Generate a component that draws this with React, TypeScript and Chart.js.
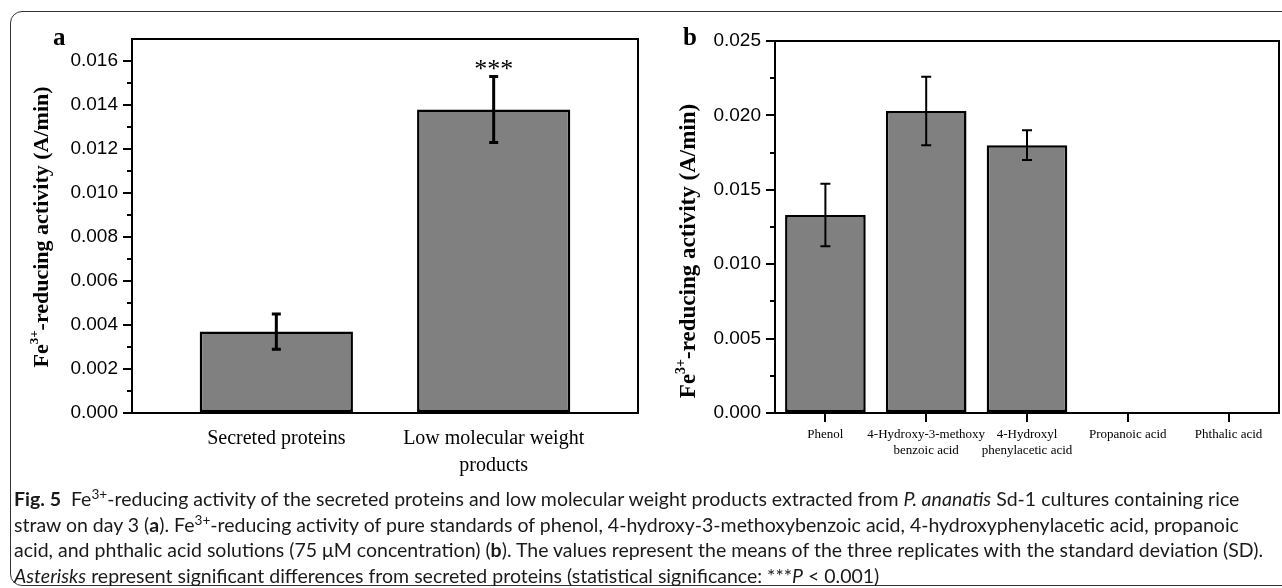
import React, { useEffect, useRef } from 'react';
import { Chart, registerables } from 'chart.js';

Chart.register(...registerables);

// ---------- Panel a data ----------
const catsA = ['Secreted proteins', 'Low molecular weight products'];
const labelsA = [['Secreted proteins'], ['Low molecular weight', 'products']];
const valuesA = [0.0037, 0.0138];
const errorsA = [0.0008, 0.0015];
const sigA = ['', '***'];
const yTicksA = [0, 0.002, 0.004, 0.006, 0.008, 0.01, 0.012, 0.014, 0.016];

// ---------- Panel b data ----------
const catsB = ['Phenol', '4-Hydroxy-3-methoxy benzoic acid', '4-Hydroxyl phenylacetic acid', 'Propanoic acid', 'Phthalic acid'];
const labelsB = [['Phenol'], ['4-Hydroxy-3-methoxy', 'benzoic acid'], ['4-Hydroxyl', 'phenylacetic acid'], ['Propanoic acid'], ['Phthalic acid']];
const valuesB = [0.0133, 0.0203, 0.018, 0, 0];
const errorsB = [0.0021, 0.0023, 0.001, 0, 0];
const yTicksB = [0, 0.005, 0.01, 0.015, 0.02, 0.025];

const SERIF = "'Liberation Serif', 'Times New Roman', serif";
const SANS = "'Liberation Sans', Arial, sans-serif";

function drawSupTitle(ctx: CanvasRenderingContext2D, cx: number, cy: number, size: number) {
  const parts = [
    { t: 'Fe', sup: false },
    { t: '3+', sup: true },
    { t: '-reducing activity (A/min)', sup: false },
  ];
  const supSize = Math.round(size * 0.6);
  ctx.save();
  ctx.translate(cx, cy);
  ctx.rotate(-Math.PI / 2);
  ctx.fillStyle = '#000';
  ctx.textBaseline = 'alphabetic';
  ctx.textAlign = 'left';
  let total = 0;
  const widths = parts.map((p) => {
    ctx.font = `bold ${p.sup ? supSize : size}px ${SERIF}`;
    const w = ctx.measureText(p.t).width;
    total += w;
    return w;
  });
  let x = -total / 2;
  const base = size * 0.35;
  parts.forEach((p, i) => {
    ctx.font = `bold ${p.sup ? supSize : size}px ${SERIF}`;
    ctx.fillText(p.t, x, p.sup ? base - size * 0.45 : base);
    x += widths[i];
  });
  ctx.restore();
}

function makeDecor(opts: {
  values: number[];
  errors: number[];
  sig?: string[];
  majors: number[];
  capHalf: number;
  errWidth: number;
  titleX: number;
  titleDY: number;
  titleSize: number;
  letter: string;
  letterX: number;
  letterY: number;
}) {
  return {
    id: 'decor',
    afterDatasetsDraw(chart: any) {
      const ctx = chart.ctx as CanvasRenderingContext2D;
      const y = chart.scales.y;
      const meta = chart.getDatasetMeta(0);
      ctx.save();
      ctx.strokeStyle = '#000';
      ctx.lineWidth = opts.errWidth;
      meta.data.forEach((bar: any, i: number) => {
        const e = opts.errors[i];
        if (!e) return;
        const v = opts.values[i];
        const top = y.getPixelForValue(v + e);
        const bot = y.getPixelForValue(v - e);
        ctx.beginPath();
        ctx.moveTo(bar.x, top);
        ctx.lineTo(bar.x, bot);
        ctx.moveTo(bar.x - opts.capHalf, top);
        ctx.lineTo(bar.x + opts.capHalf, top);
        ctx.moveTo(bar.x - opts.capHalf, bot);
        ctx.lineTo(bar.x + opts.capHalf, bot);
        ctx.stroke();
        const s = opts.sig ? opts.sig[i] : '';
        if (s) {
          ctx.fillStyle = '#000';
          ctx.font = `26px ${SERIF}`;
          ctx.textAlign = 'center';
          ctx.textBaseline = 'alphabetic';
          ctx.fillText(s, bar.x, top + 1);
        }
      });
      ctx.restore();
    },
    afterDraw(chart: any) {
      const ctx = chart.ctx as CanvasRenderingContext2D;
      const a = chart.chartArea;
      const y = chart.scales.y;
      ctx.save();
      ctx.strokeStyle = '#000';
      ctx.lineWidth = 2;
      ctx.strokeRect(a.left, a.top, a.right - a.left, a.bottom - a.top);
      // minor ticks
      ctx.beginPath();
      for (let i = 0; i < opts.majors.length - 1; i++) {
        const mid = (opts.majors[i] + opts.majors[i + 1]) / 2;
        const p = Math.round(y.getPixelForValue(mid));
        ctx.moveTo(a.left - 5, p);
        ctx.lineTo(a.left, p);
      }
      ctx.stroke();
      ctx.restore();
      drawSupTitle(ctx, opts.titleX, (a.top + a.bottom) / 2 + opts.titleDY, opts.titleSize);
      ctx.save();
      ctx.fillStyle = '#000';
      ctx.font = `bold 25px ${SERIF}`;
      ctx.textAlign = 'left';
      ctx.textBaseline = 'alphabetic';
      ctx.fillText(opts.letter, opts.letterX, opts.letterY);
      ctx.restore();
    },
  };
}

const axisBorder = { display: true, color: '#000', width: 2 };
const yGrid = { drawOnChartArea: false, drawTicks: true, tickLength: 9, color: '#000', lineWidth: 2 };

export default function App() {
  const refA = useRef<HTMLCanvasElement>(null);
  const refB = useRef<HTMLCanvasElement>(null);

  useEffect(() => {
    const chartA = new Chart(refA.current as HTMLCanvasElement, {
      type: 'bar',
      data: {
        datasets: [
          {
            data: valuesA.map((v, i) => ({ x: i, y: v })),
            backgroundColor: '#808080',
            borderColor: '#000',
            borderWidth: 2.5,
            borderSkipped: false,
            barPercentage: 0.705,
            categoryPercentage: 1,
          },
        ],
      },
      options: {
        animation: false,
        responsive: false,
        devicePixelRatio: 1,
        layout: { padding: { top: 39, right: 12, left: 0, bottom: 0 } },
        plugins: { legend: { display: false }, tooltip: { enabled: false } },
        scales: {
          x: {
            type: 'linear',
            min: -0.664,
            max: 1.664,
            offset: false,
            afterBuildTicks: (s: any) => {
              s.ticks = catsA.map((_, i) => ({ value: i }));
            },
            afterFit: (s: any) => {
              s.height = 87;
            },
            grid: { display: false, drawTicks: false },
            border: axisBorder,
            ticks: {
              callback: (v: any) => labelsA[v] ?? '',
              font: { family: SERIF, size: 20, lineHeight: 1.35 },
              color: '#000',
              padding: 12,
              maxRotation: 0,
              autoSkip: false,
            },
          },
          y: {
            min: 0,
            max: 0.017,
            afterBuildTicks: (s: any) => {
              s.ticks = yTicksA.map((v) => ({ value: v }));
            },
            afterFit: (s: any) => {
              s.width = 132;
            },
            grid: yGrid,
            border: axisBorder,
            ticks: {
              callback: (v: any) => Number(v).toFixed(3),
              font: { family: SANS, size: 19 },
              color: '#000',
              padding: 5,
            },
          },
        },
      } as any,
      plugins: [
        makeDecor({
          values: valuesA,
          errors: errorsA,
          sig: sigA,
          majors: yTicksA,
          capHalf: 4.5,
          errWidth: 3,
          titleX: 40,
          titleDY: 1,
          titleSize: 22,
          letter: 'a',
          letterX: 53,
          letterY: 45,
        }),
      ],
    });

    const chartB = new Chart(refB.current as HTMLCanvasElement, {
      type: 'bar',
      data: {
        labels: labelsB as any,
        datasets: [
          {
            data: valuesB,
            backgroundColor: '#808080',
            borderColor: '#000',
            borderWidth: 2.5,
            borderSkipped: false,
            barPercentage: 1,
            categoryPercentage: 0.8,
          },
        ],
      },
      options: {
        animation: false,
        responsive: false,
        devicePixelRatio: 1,
        layout: { padding: { top: 41, right: 3, left: 0, bottom: 0 } },
        plugins: { legend: { display: false }, tooltip: { enabled: false } },
        scales: {
          x: {
            type: 'category',
            offset: true,
            afterFit: (s: any) => {
              s.height = 87;
            },
            grid: { display: true, drawOnChartArea: false, drawTicks: true, tickLength: 9, color: '#000', lineWidth: 2, offset: false },
            border: axisBorder,
            ticks: {
              font: { family: SERIF, size: 13, lineHeight: 1.2 },
              color: '#000',
              padding: 5,
              maxRotation: 0,
              autoSkip: false,
            },
          },
          y: {
            min: 0,
            max: 0.025,
            afterBuildTicks: (s: any) => {
              s.ticks = yTicksB.map((v) => ({ value: v }));
            },
            afterFit: (s: any) => {
              s.width = 125;
            },
            grid: yGrid,
            border: axisBorder,
            ticks: {
              callback: (v: any) => Number(v).toFixed(3),
              font: { family: SANS, size: 19 },
              color: '#000',
              padding: 5,
            },
          },
        },
      } as any,
      plugins: [
        makeDecor({
          values: valuesB,
          errors: errorsB,
          majors: yTicksB,
          capHalf: 5,
          errWidth: 2,
          titleX: 37,
          titleDY: 24,
          titleSize: 23,
          letter: 'b',
          letterX: 33,
          letterY: 45,
        }),
      ],
    });

    return () => {
      chartA.destroy();
      chartB.destroy();
    };
  }, []);

  const lineStyle: React.CSSProperties = { height: 25.5, lineHeight: '25.5px', whiteSpace: 'nowrap' };
  const sup: React.CSSProperties = { fontSize: '0.7em', verticalAlign: 'super', lineHeight: 0 };

  return (
    <div
      style={{
        position: 'fixed',
        left: 0,
        top: 0,
        width: 1282,
        height: 588,
        background: '#fff',
        overflow: 'hidden',
      }}
    >
      <div
        style={{
          position: 'absolute',
          left: 10,
          top: 11,
          width: 1300,
          height: 575,
          border: '1.5px solid #333',
          borderRadius: 12,
          boxSizing: 'border-box',
        }}
      />
      <canvas ref={refA} width={650} height={500} style={{ position: 'absolute', left: 0, top: 0, width: 650, height: 500 }} />
      <canvas ref={refB} width={632} height={500} style={{ position: 'absolute', left: 650, top: 0, width: 632, height: 500 }} />
      <div
        style={{
          position: 'absolute',
          left: 14,
          top: 486,
          fontFamily: "Lato, 'Open Sans', sans-serif",
          fontSize: 19.5,
          color: '#1a1a1a',
        }}
      >
        <div style={lineStyle}>
          <b>Fig. 5</b>&nbsp; Fe<span style={sup}>3+</span>-reducing activity of the secreted proteins and low molecular weight products extracted from <i>P. ananatis</i> Sd-1 cultures containing rice
        </div>
        <div style={lineStyle}>
          straw on day 3 (<b>a</b>). Fe<span style={sup}>3+</span>-reducing activity of pure standards of phenol, 4-hydroxy-3-methoxybenzoic acid, 4-hydroxyphenylacetic acid, propanoic
        </div>
        <div style={lineStyle}>
          acid, and phthalic acid solutions (75 μM concentration) (<b>b</b>). The values represent the means of the three replicates with the standard deviation (SD).
        </div>
        <div style={lineStyle}>
          <i>Asterisks</i> represent significant differences from secreted proteins (statistical significance: ***<i>P</i> &lt; 0.001)
        </div>
      </div>
    </div>
  );
}
